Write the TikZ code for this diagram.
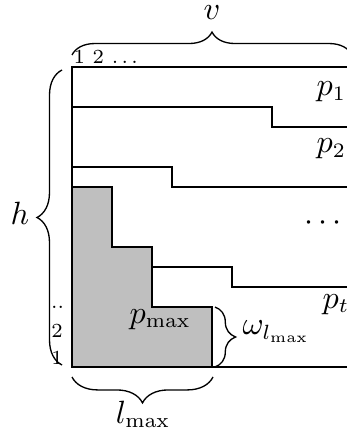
\documentclass[tikz,border=0pt]{standalone}
\usetikzlibrary{decorations.pathreplacing}
\tikzset{
  brc/.style={decorate, decoration={brace, amplitude=#1}},
  smallnum/.style={font=\fontsize{6.8}{8}\selectfont, inner sep=0pt},
  lbl/.style={inner sep=0pt, font=\fontsize{10.6}{12}\selectfont},
  region/.style={draw=black, fill=gray!50}
}
\begin{document}
\begin{tikzpicture}[x=6.8pt,y=6.8pt,line width=0.45pt]
\useasboundingbox (-3.6,-3.25) rectangle (13.7,18.35);
% shaded piece
\draw[region] (0,9) -- (2,9) -- (2,6) -- (4,6) -- (4,3) -- (7,3) -- (7,0) -- (0,0) -- cycle;
% frame and profile lines
\draw (0,0) -- (0,15) -- (14,15);
\draw (0,13) -- (10,13) -- (10,12) -- (14,12);
\draw (0,10) -- (5,10) -- (5,9) -- (14,9);
\draw (4,5) -- (8,5) -- (8,4) -- (14,4);
\draw (0,0) -- (14,0);
% brace end points
\coordinate (tl) at (0,15.6);
\coordinate (tr) at (14,15.6);
\coordinate (lb) at (-0.5,0.1);
\coordinate (lt) at (-0.5,14.85);
\coordinate (wt) at (7.15,3);
\coordinate (wb) at (7.15,0);
\coordinate (br) at (7.05,-0.5);
\coordinate (bl) at (0,-0.5);
\draw[brc=7.8pt] (tl) -- (tr);
\draw[brc=8.5pt] (lb) -- (lt);
\draw[brc=7pt] (wt) -- (wb);
\draw[brc=8.8pt] (br) -- (bl);
% labels
\node[lbl, anchor=base] (v) at (7,17.35) {$v$};
\node[lbl, anchor=base] (h) at (-2.6,7.1) {$h$};
\node[smallnum, anchor=base west] (cols) at (0.05,15.15) {1 2 .\,.\,.};
\node[smallnum, anchor=base] (r1) at (-0.75,0.15) {1};
\node[smallnum, anchor=base] (r2) at (-0.75,1.5) {2};
\node[smallnum, anchor=base] (r3) at (-0.72,2.9) {..};
\node[lbl, anchor=base west] (pmax) at (2.85,2.2) {$p_{\max}$};
\node[lbl, anchor=base west] (w) at (8.5,1.6) {$\omega_{l_{\max}}$};
\node[lbl, anchor=base] (lmax) at (3.55,-2.8) {$l_{\max}$};
\node[lbl, anchor=base west] (p1) at (12.2,13.55) {$p_1$};
\node[lbl, anchor=base west] (p2) at (12.2,10.7) {$p_2$};
\node[lbl] (dots) at (12.55,7.2) {$\cdots$};
\node[lbl, anchor=base west] (pt) at (12.5,2.95) {$p_t$};
\end{tikzpicture}
\end{document}
